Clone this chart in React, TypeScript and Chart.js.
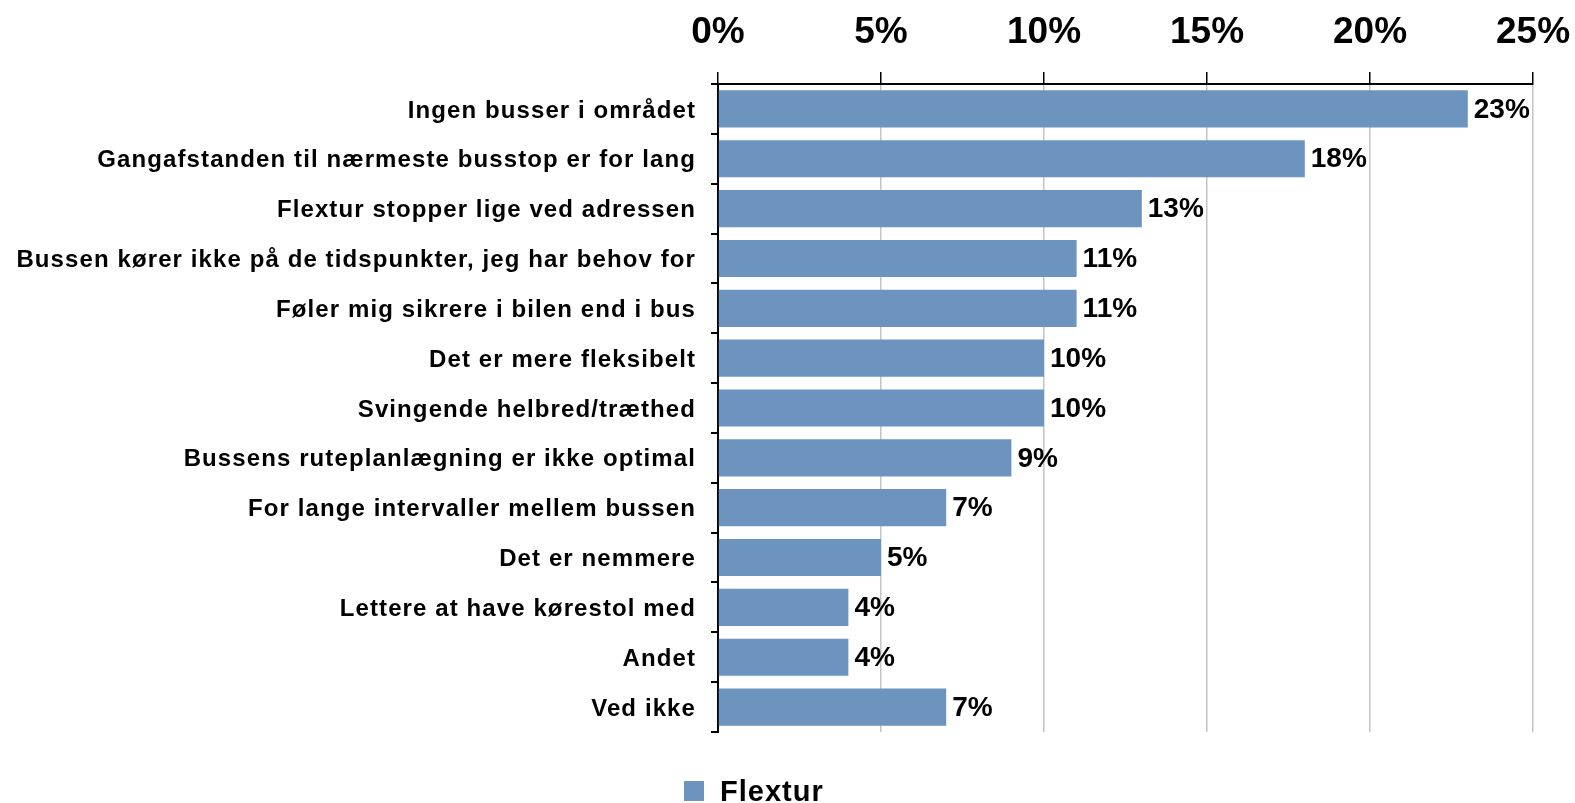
import React, { useEffect, useRef } from "react";
import { Chart, registerables } from "chart.js";

Chart.register(...registerables);

const categories: string[] = [
  "Ingen busser i området",
  "Gangafstanden til nærmeste busstop er for lang",
  "Flextur stopper lige ved adressen",
  "Bussen kører ikke på de tidspunkter, jeg har behov for",
  "Føler mig sikrere i bilen end i bus",
  "Det er mere fleksibelt",
  "Svingende helbred/træthed",
  "Bussens ruteplanlægning er ikke optimal",
  "For lange intervaller mellem bussen",
  "Det er nemmere",
  "Lettere at have kørestol med",
  "Andet",
  "Ved ikke",
];

const flexturValues: number[] = [23, 18, 13, 11, 11, 10, 10, 9, 7, 5, 4, 4, 7];

const seriesName = "Flextur";
const xTickValues: number[] = [0, 5, 10, 15, 20, 25];

const FONT = "'Liberation Sans', Arial, Helvetica, sans-serif";
const BAR_COLOR = "#6d94bf";

const ySpacingPlugin = {
  id: "ySpacing",
  beforeDraw(chart: any) {
    const s = chart.scales.y;
    if (s && !s.__wrapped) {
      const orig = s.drawLabels;
      s.drawLabels = function (area: any) {
        const ctx = this.ctx;
        ctx.save();
        ctx.letterSpacing = "1.1px";
        orig.call(this, area);
        ctx.restore();
      };
      s.__wrapped = true;
    }
  },
};

const dataLabelPlugin = {
  id: "dataLabels",
  afterDatasetsDraw(chart: any) {
    const ctx = chart.ctx;
    const meta = chart.getDatasetMeta(0);
    const data = chart.data.datasets[0].data as number[];
    ctx.save();
    ctx.font = `bold 28px ${FONT}`;
    ctx.fillStyle = "#000";
    ctx.textAlign = "left";
    ctx.textBaseline = "middle";
    meta.data.forEach((bar: any, i: number) => {
      ctx.fillText(`${data[i]}%`, bar.x + 6, bar.y + 1);
    });
    ctx.restore();
  },
};

const customLegendPlugin = {
  id: "customLegend",
  afterDraw(chart: any) {
    const ctx = chart.ctx;
    const baseY = chart.height - 2;
    ctx.save();
    ctx.fillStyle = BAR_COLOR;
    ctx.fillRect(684, baseY - 20, 20, 20);
    ctx.font = `bold 29px ${FONT}`;
    (ctx as any).letterSpacing = "1px";
    ctx.fillStyle = "#000";
    ctx.textAlign = "left";
    ctx.textBaseline = "alphabetic";
    ctx.fillText(chart.data.datasets[0].label, 720, baseY);
    ctx.restore();
  },
};

export default function App() {
  const canvasRef = useRef<HTMLCanvasElement | null>(null);

  useEffect(() => {
    document.body.style.margin = "0";
    const canvas = canvasRef.current;
    if (!canvas) return;
    const chart = new Chart(canvas, {
      type: "bar",
      data: {
        labels: categories,
        datasets: [
          {
            label: seriesName,
            data: flexturValues,
            backgroundColor: BAR_COLOR,
            borderWidth: 0,
            categoryPercentage: 1,
            barPercentage: 0.745,
          },
        ],
      },
      options: {
        indexAxis: "y",
        responsive: false,
        animation: false,
        devicePixelRatio: 1,
        layout: { padding: { left: 0, right: 42, top: 0, bottom: 71 } },
        plugins: {
          legend: { display: false },
          tooltip: { enabled: false },
        },
        scales: {
          x: {
            position: "top",
            min: 0,
            max: 25,
            afterBuildTicks(scale: any) {
              scale.ticks = xTickValues.map((v) => ({ value: v }));
            },
            afterFit(scale: any) {
              scale.height = 84;
              scale.paddingLeft = 0;
              scale.paddingRight = 0;
            },
            ticks: {
              callback: (v: any) => `${v}%`,
              color: "#000",
              font: { family: FONT, size: 37, weight: "bold" },
              padding: 17,
              maxRotation: 0,
            },
            grid: {
              color: "#c4c4c4",
              lineWidth: 1.5,
              tickColor: "#000",
              tickLength: 12,
              drawTicks: true,
            },
            border: { display: true, color: "#000", width: 2 },
          },
          y: {
            afterFit(scale: any) {
              scale.width = 718;
            },
            ticks: {
              color: "#000",
              font: { family: FONT, size: 24, weight: "bold" },
              padding: 15,
              labelOffset: 2,
              autoSkip: false,
            },
            grid: {
              drawOnChartArea: false,
              drawTicks: true,
              tickLength: 7,
              tickColor: "#000",
              lineWidth: 2,
            },
            border: { display: true, color: "#000", width: 2 },
          },
        },
      } as any,
      plugins: [ySpacingPlugin, dataLabelPlugin, customLegendPlugin],
    });
    return () => chart.destroy();
  }, []);

  return (
    <div style={{ width: 1575, height: 803, background: "#fff" }}>
      <canvas ref={canvasRef} width={1575} height={803} />
    </div>
  );
}
